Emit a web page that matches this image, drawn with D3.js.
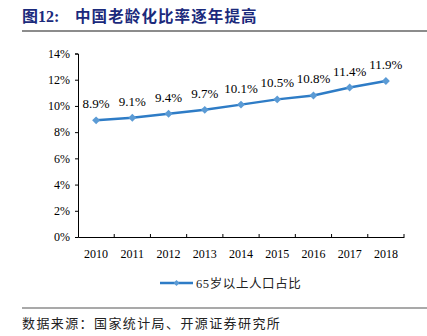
<!DOCTYPE html>
<html><head><meta charset="utf-8">
<script src="https://cdn.jsdelivr.net/npm/d3@7"></script>
<style>body{margin:0;background:#fff}svg{display:block}</style>
</head><body>
<svg id="c" width="427" height="336"></svg>
<script>
const years = ["2010","2011","2012","2013","2014","2015","2016","2017","2018"];
const ratio = [8.9, 9.1, 9.4, 9.7, 10.1, 10.5, 10.8, 11.4, 11.9];
const yTicks = [0, 2, 4, 6, 8, 10, 12, 14];
const seriesName = "65岁以上人口占比";
const titleNum = "图12:";
const titleText = "中国老龄化比率逐年提高";
const sourceText = "数据来源：国家统计局、开源证券研究所";

const svg = d3.select("#c");
const cjk = "'Liberation Serif', 'Noto Sans CJK SC', sans-serif";
const serif = "'Liberation Serif', 'Times New Roman', serif";
const lineColor = "#2e7cc6", markColor = "#5b9bd5";

// title
svg.append("text").attr("x", 22).attr("y", 22).attr("fill", "#1b2a7c")
  .attr("font-family", cjk).attr("font-weight", "bold").attr("font-size", 16)
  .text(titleNum);
svg.append("text").attr("x", 75).attr("y", 22).attr("fill", "#1b2a7c")
  .attr("font-family", cjk).attr("font-weight", "bold").attr("font-size", 15.5)
  .attr("letter-spacing", 1.1).text(titleText);
svg.append("line").attr("x1", 22).attr("x2", 427).attr("y1", 31).attr("y2", 31)
  .attr("stroke", "#8c8c8c").attr("stroke-width", 2);

const x = d3.scaleBand().domain(years).range([78, 404]);
const y = d3.scaleLinear().domain([0, 14]).range([237, 53.5]);

// y axis
const ya = svg.append("g").attr("transform", "translate(78,0)")
  .call(d3.axisLeft(y).tickValues(yTicks).tickFormat(d => d + "%").tickSize(3).tickPadding(5));
ya.selectAll("text").attr("font-family", serif).attr("font-size", 12).attr("fill", "#000");
ya.selectAll("line,path").attr("stroke", "#000");

// x axis
const xa = svg.append("g").attr("transform", "translate(0,237)")
  .call(d3.axisBottom(x).tickSize(0).tickPadding(12));
xa.selectAll("text").attr("font-family", serif).attr("font-size", 12).attr("fill", "#000");
xa.select("path").attr("stroke", "#000");
xa.selectAll(".bt").data(years.map(d => x(d) + x.bandwidth())).enter().append("line")
  .attr("x1", d => d).attr("x2", d => d).attr("y1", 0).attr("y2", -3).attr("stroke", "#000");

// line
const cx = d => x(d) + x.bandwidth() / 2;
svg.append("path").datum(ratio)
  .attr("d", d3.line().x((d, i) => cx(years[i])).y(d => y(d)))
  .attr("fill", "none").attr("stroke", lineColor).attr("stroke-width", 2.5);
const sym = d3.symbol().type(d3.symbolDiamond2).size(40);
svg.selectAll(".m").data(ratio).enter().append("path")
  .attr("transform", (d, i) => `translate(${cx(years[i])},${y(d)})`)
  .attr("d", sym).attr("fill", markColor);
svg.selectAll(".lb").data(ratio).enter().append("text")
  .attr("x", (d, i) => cx(years[i])).attr("y", d => y(d) - 12)
  .attr("text-anchor", "middle").attr("font-family", serif).attr("font-size", 13)
  .text(d => d.toFixed(1) + "%");

// legend
svg.append("line").attr("x1", 160).attr("x2", 193).attr("y1", 283).attr("y2", 283)
  .attr("stroke", lineColor).attr("stroke-width", 2.5);
svg.append("path").attr("transform", "translate(176.5,283)").attr("d", d3.symbol().type(d3.symbolDiamond2).size(22)).attr("fill", markColor);
svg.append("text").attr("x", 196).attr("y", 287.5).attr("font-family", cjk).attr("font-size", 12.5)
  .attr("letter-spacing", 0.6).attr("fill", "#222").text(seriesName);

// bottom
svg.append("line").attr("x1", 22).attr("x2", 427).attr("y1", 308).attr("y2", 308)
  .attr("stroke", "#8c8c8c").attr("stroke-width", 1.5);
svg.append("text").attr("x", 22).attr("y", 328).attr("font-family", cjk).attr("font-size", 13)
  .attr("letter-spacing", 1.4).attr("fill", "#222").text(sourceText);
</script>
</body></html>
